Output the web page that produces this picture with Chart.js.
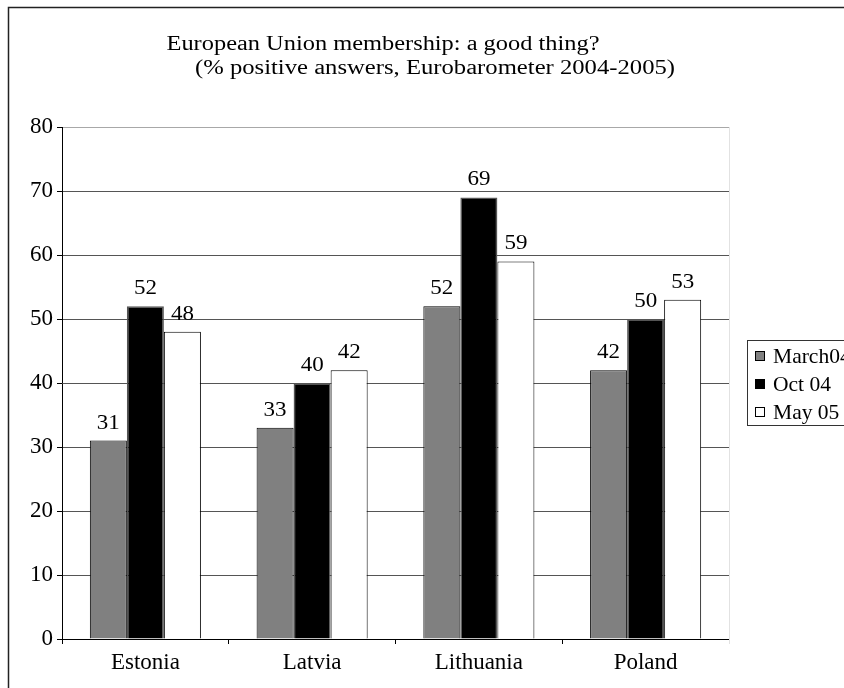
<!DOCTYPE html>
<html>
<head>
<meta charset="utf-8">
<script src="https://cdn.jsdelivr.net/npm/chart.js@4"></script>
<style>
html,body{margin:0;padding:0;background:#fff;overflow:hidden;}
#wrap{width:844px;height:688px;position:relative;}
</style>
</head>
<body>
<div id="wrap"><canvas id="c" width="844" height="688"></canvas></div>
<script>
const categories = ["Estonia", "Latvia", "Lithuania", "Poland"];
const seriesNames = ["March04", "Oct 04", "May 05"];
const march04 = [31, 33, 52, 42];
const oct04 = [52, 40, 69, 50];
const may05 = [48, 42, 59, 53];
const yTicks = [0, 10, 20, 30, 40, 50, 60, 70, 80];
const titleLines = ["European Union membership: a good thing?", "(% positive answers, Eurobarometer 2004-2005)"];

const FONT = '"Liberation Serif", "Times New Roman", serif';
Chart.defaults.font.family = FONT;
Chart.defaults.color = '#000';

const fills = ['#808080', '#000000', '#ffffff'];
const borders = ['#000000', '#555555', '#000000'];

function fitText(ctx, text, cx, baseline, size, targetW) {
  ctx.save();
  ctx.font = size + 'px ' + FONT;
  const w = ctx.measureText(text).width;
  const s = targetW ? targetW / w : 1;
  ctx.translate(cx, baseline);
  ctx.scale(s, 1);
  ctx.textAlign = 'center';
  ctx.textBaseline = 'alphabetic';
  ctx.fillStyle = '#000';
  ctx.fillText(text, 0, 0);
  ctx.restore();
}

const decor = {
  id: 'decor',
  afterDraw(chart) {
    const ctx = chart.ctx;
    const a = chart.chartArea;
    ctx.save();
    // outer frame (left + top)
    ctx.strokeStyle = '#222';
    ctx.lineWidth = 1.5;
    ctx.beginPath();
    ctx.moveTo(8.5, 700);
    ctx.lineTo(8.5, 7.5);
    ctx.lineTo(860, 7.5);
    ctx.stroke();
    // faint right border of plot area
    ctx.strokeStyle = '#e2e2e2';
    ctx.lineWidth = 1;
    ctx.beginPath();
    ctx.moveTo(Math.round(a.right) + 0.5, a.top);
    ctx.lineTo(Math.round(a.right) + 0.5, a.bottom + 5);
    ctx.stroke();
    // data labels
    ctx.textAlign = 'center';
    ctx.textBaseline = 'alphabetic';
    ctx.fillStyle = '#000';
    chart.data.datasets.forEach((ds, di) => {
      const meta = chart.getDatasetMeta(di);
      meta.data.forEach((bar, i) => {
        fitText(ctx, String(ds.data[i]), bar.x, bar.y - 12, 22, 23);
      });
    });
    // title
    fitText(ctx, titleLines[0], 383, 50, 20, 433);
    fitText(ctx, titleLines[1], 435, 74, 20, 480);
    // legend
    const lx = 747, ly = 340;
    ctx.strokeStyle = '#333';
    ctx.lineWidth = 1;
    ctx.strokeRect(lx + 0.5, ly + 0.5, 200, 85);
    ctx.font = '21px ' + FONT;
    const ref = ctx.measureText('Oct 04').width;
    const sx = 58 / ref;
    chart.data.datasets.forEach((ds, di) => {
      const cy = 356 + di * 28;
      ctx.fillStyle = ds.backgroundColor;
      ctx.fillRect(755.5, cy - 4.5, 9, 9);
      ctx.strokeStyle = '#000';
      ctx.strokeRect(755.5, cy - 4.5, 9, 9);
      ctx.save();
      ctx.translate(773, cy + 7);
      ctx.scale(sx, 1);
      ctx.fillStyle = '#000';
      ctx.textAlign = 'left';
      ctx.fillText(ds.label, 0, 0);
      ctx.restore();
    });
    ctx.restore();
  }
};

new Chart(document.getElementById('c'), {
  type: 'bar',
  data: {
    labels: categories,
    datasets: [
      { label: seriesNames[0], data: march04, backgroundColor: fills[0], borderColor: borders[0], borderWidth: 1 },
      { label: seriesNames[1], data: oct04, backgroundColor: fills[1], borderColor: borders[1], borderWidth: 1.5 },
      { label: seriesNames[2], data: may05, backgroundColor: fills[2], borderColor: borders[2], borderWidth: 1 }
    ]
  },
  options: {
    responsive: false,
    animation: false,
    devicePixelRatio: 1,
    layout: { padding: { left: 0, right: 115, top: 127, bottom: 0 } },
    datasets: { bar: { categoryPercentage: 0.666, barPercentage: 1.0 } },
    plugins: { legend: { display: false }, title: { display: false }, tooltip: { enabled: false } },
    scales: {
      x: {
        offset: true,
        grid: { display: true, drawOnChartArea: false, offset: true, tickLength: 5, color: '#000' },
        border: { color: '#000', width: 1 },
        ticks: { font: { size: 23 }, padding: 5, color: '#000' },
        afterFit(s) { s.height = 49; }
      },
      y: {
        min: 0, max: 80,
        afterBuildTicks(s) { s.ticks = yTicks.map(v => ({ value: v })); },
        grid: {
          color: (c) => (c.tick && c.tick.value === 80 ? '#a8a8a8' : '#555555'),
          tickColor: '#000', tickLength: 5
        },
        border: { color: '#000', width: 1 },
        ticks: { font: { size: 23 }, padding: 4, color: '#000' },
        afterFit(s) { s.width = 62; }
      }
    }
  },
  plugins: [decor]
});
</script>
</body>
</html>
